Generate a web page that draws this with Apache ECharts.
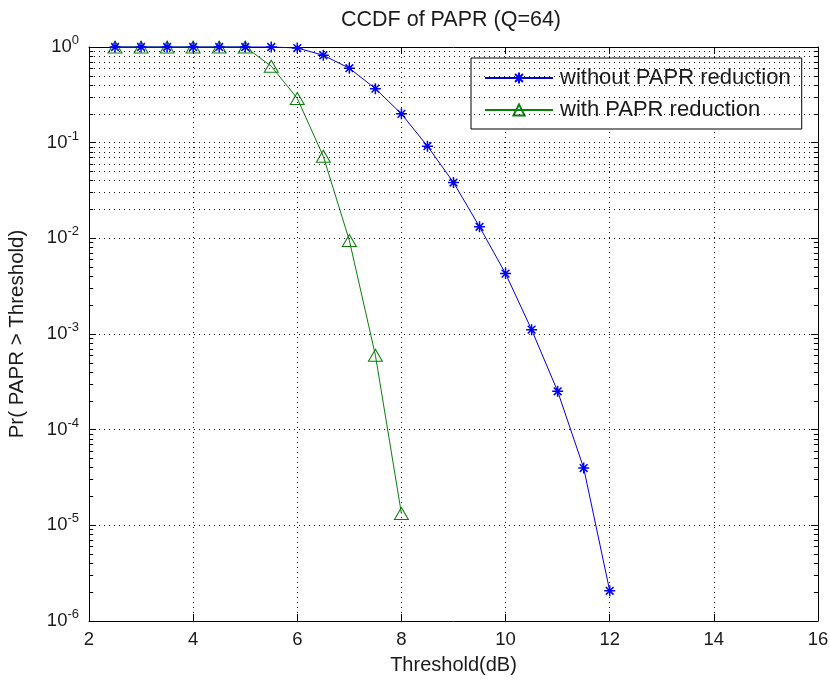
<!DOCTYPE html>
<html><head><meta charset="utf-8">
<script src="https://cdn.jsdelivr.net/npm/echarts@6/dist/echarts.min.js"></script>
<style>html,body{margin:0;padding:0;background:#fff}#c{width:830px;height:682px}</style>
</head><body><div id="c"></div>
<script>
// ---- data ----
const thresholdsBlue = [2.5,3,3.5,4,4.5,5,5.5,6,6.5,7,7.5,8,8.5,9,9.5,10,10.5,11,11.5,12];
const withoutReduction = [1,1,1,1,1,1,1,0.976,0.82,0.60,0.367,0.20,0.092,0.0383,0.0132,0.00428,0.00111,0.000252,0.0000397,0.00000207];
const thresholdsGreen = [2.5,3,3.5,4,4.5,5,5.5,6,6.5,7,7.5,8];
const withReduction = [1,1,1,1,1,1,0.63,0.29,0.072,0.0095,0.0006,0.0000133];
const seriesNames = ['without PAPR reduction','with PAPR reduction'];
const xTicks = [2,4,6,8,10,12,14,16];
const decadeExponents = [-6,-5,-4,-3,-2,-1,0];
const minorMultipliers = [2,3,4,5,6,7,8,9];

const FONT = 'Liberation Sans, Arial, Helvetica, sans-serif';
const TXT = '#1a1a1a';

// minor log grid lines & minor ticks (through the axis scale)
const minorVals = [];
decadeExponents.slice(0,-1).forEach(e => minorMultipliers.forEach(m => minorVals.push(m*Math.pow(10,e))));
const dotStyle = {color:'#111', width:1, type:[1,4]};
const tickStyle = {color:'#000', width:1, type:'solid'};
const gridMarks = [];
minorVals.forEach(v => {
  gridMarks.push({yAxis:v, lineStyle:dotStyle});
  gridMarks.push([{coord:[xTicks[0],v], lineStyle:tickStyle},{coord:[xTicks[0]+0.08,v]}]);
  gridMarks.push([{coord:[xTicks[xTicks.length-1]-0.08,v], lineStyle:tickStyle},{coord:[xTicks[xTicks.length-1],v]}]);
});

const star = 'path://M0,5L10,5M5,0L5,10M1.5,1.5L8.5,8.5M8.5,1.5L1.5,8.5';

const chart = echarts.init(document.getElementById('c'), null, {renderer:'canvas'});
chart.setOption({
  animation:false,
  backgroundColor:'#fff',
  title:{text:'CCDF of PAPR (Q=64)', left:451, textAlign:'center', top:9, padding:0,
    textStyle:{fontFamily:FONT, fontSize:21.5, fontWeight:'normal', color:TXT}},
  grid:{left:89, right:12, top:47, bottom:61, outerBoundsMode:'none', containLabel:false},
  legend:{
    data:seriesNames, orient:'vertical', left:471, top:58,
    padding:[9,11,8,13], itemGap:10, itemWidth:68, itemHeight:14,
    backgroundColor:'#fff', borderColor:'#000', borderWidth:1,
    textStyle:{fontFamily:FONT, fontSize:22, color:TXT, padding:[0,0,0,2]}
  },
  xAxis:[{
    type:'value', min:2, max:16, interval:2, position:'bottom',
    name:'Threshold(dB)', nameLocation:'middle', nameGap:34, nameMoveOverlap:false,
    nameTextStyle:{fontFamily:FONT, fontSize:20, color:TXT},
    axisLine:{show:true, onZero:false, lineStyle:{color:'#000', width:1}},
    axisTick:{show:true, inside:true, length:7, lineStyle:{color:'#000'}},
    axisLabel:{margin:9, fontFamily:FONT, fontSize:18.5, color:TXT},
    splitLine:{show:true, lineStyle:dotStyle}
  },{
    type:'value', min:2, max:16, interval:2, position:'top',
    axisLine:{show:true, onZero:false, lineStyle:{color:'#000', width:1}},
    axisTick:{show:true, inside:true, length:7, lineStyle:{color:'#000'}},
    axisLabel:{show:false}, splitLine:{show:false}
  }],
  yAxis:[{
    type:'log', logBase:10, min:1e-6, max:1, splitNumber:6, position:'left',
    name:'Pr( PAPR > Threshold)', nameLocation:'middle', nameGap:61, nameRotate:90, nameMoveOverlap:false,
    nameTextStyle:{fontFamily:FONT, fontSize:20.5, color:TXT},
    axisLine:{show:true, lineStyle:{color:'#000', width:1}},
    axisTick:{show:true, inside:true, length:7, lineStyle:{color:'#000'}},
    splitLine:{show:true, lineStyle:dotStyle},
    axisLabel:{margin:10, color:TXT,
      formatter:v => '{b|10}{s|' + Math.round(Math.log10(v)) + '}',
      rich:{b:{fontFamily:FONT, fontSize:18.5, color:TXT},
            s:{fontFamily:FONT, fontSize:13, color:TXT, padding:[0,0,13,0]}}}
  },{
    type:'log', logBase:10, min:1e-6, max:1, splitNumber:6, position:'right',
    axisLine:{show:true, lineStyle:{color:'#000', width:1}},
    axisTick:{show:true, inside:true, length:7, lineStyle:{color:'#000'}},
    axisLabel:{show:false}, splitLine:{show:false}
  }],
  series:[
    {name:'grid', type:'line', data:[[xTicks[0], minorVals[0]]], symbol:'none', lineStyle:{opacity:0},
     silent:true, z:1, clip:false,
     markLine:{silent:true, symbol:['none','none'], label:{show:false}, emphasis:{disabled:true},
       animation:false, data:gridMarks}},
    {name:seriesNames[0], type:'line', z:3, clip:false,
     data:thresholdsBlue.map((x,i)=>[x, withoutReduction[i]]),
     symbol:star, symbolSize:11,
     lineStyle:{color:'#0000dd', width:1},
     itemStyle:{color:'#0000ff', borderColor:'#0000ff', borderWidth:1.5}},
    {name:seriesNames[1], type:'line', z:2, clip:false,
     data:thresholdsGreen.map((x,i)=>[x, withReduction[i]]),
     symbol:'triangle', symbolSize:[14,12],
     lineStyle:{color:'#0a800a', width:1},
     itemStyle:{color:'rgba(255,255,255,0)', borderColor:'#0a800a', borderWidth:1}}
  ]
});
</script></body></html>
